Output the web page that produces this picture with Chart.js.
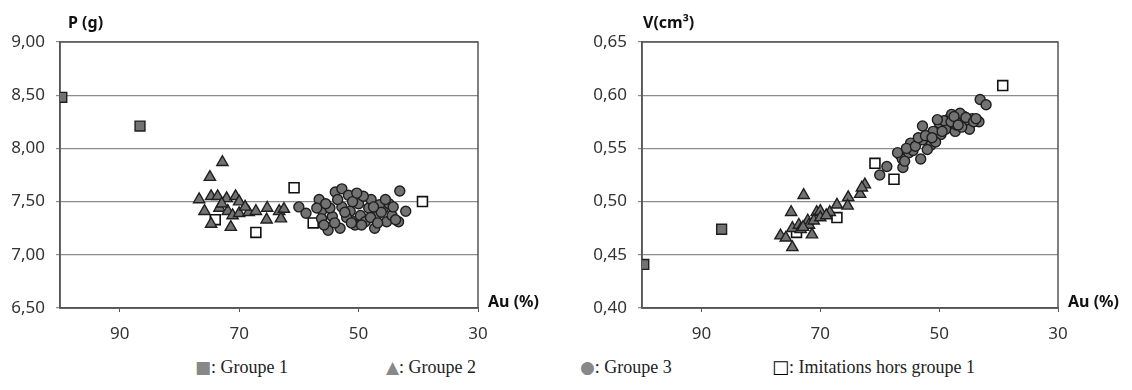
<!DOCTYPE html>
<html>
<head>
<meta charset="utf-8">
<script src="https://cdn.jsdelivr.net/npm/chart.js@4.4.0/dist/chart.umd.min.js"></script>
<style>
  body { margin: 0; background: #fff; width: 1132px; height: 390px; position: relative; overflow: hidden; }
  canvas { position: absolute; top: 0; }
  #pChart { left: 0; }
  #vChart { left: 560px; }
  .leg { position: absolute; top: 357px; font-family: "Liberation Serif", serif; font-size: 18px; color: #222; white-space: nowrap; }
  .sym { font-family: "DejaVu Sans", sans-serif; color: #888; font-size: 17px; line-height: 18px; }
  .open { font-family: "DejaVu Sans", sans-serif; color: #000; font-size: 18px; line-height: 18px; font-weight: bold; }
</style>
</head>
<body>
<canvas id="pChart" width="560" height="345"></canvas>
<canvas id="vChart" width="572" height="345"></canvas>
<div class="leg" style="left:195px"><span class="sym">■</span>: Groupe 1</div>
<div class="leg" style="left:386px"><span class="sym">▲</span>: Groupe 2</div>
<div class="leg" style="left:580px"><span class="sym">●</span>: Groupe 3</div>
<div class="leg" style="left:772px"><span class="open">□</span>: Imitations hors groupe 1</div>
<script>
// tick values
const auTicks = [90, 70, 50, 30];
const pTicks = [6.5, 7.0, 7.5, 8.0, 8.5, 9.0];
const vTicks = [0.40, 0.45, 0.50, 0.55, 0.60, 0.65];

// Groupe 1
const g1Au = [99.7, 86.6];
const g1P = [8.48, 8.21];
const g1V = [0.441, 0.474];

// Groupe 2
const g2Au = [72.8, 74.9, 76.7, 74.7, 73.6, 72.1, 70.6, 70.0, 75.8, 73.3, 71.9, 71.1, 74.7, 71.4, 70.0, 68.4, 67.2, 65.3, 65.4, 63.3, 62.5, 63.0, 72.9, 69.0];
const g2P = [7.87, 7.73, 7.52, 7.55, 7.55, 7.53, 7.55, 7.50, 7.41, 7.44, 7.41, 7.37, 7.29, 7.26, 7.39, 7.40, 7.41, 7.44, 7.33, 7.41, 7.43, 7.34, 7.48, 7.45];
const g2V = [0.506, 0.490, 0.468, 0.475, 0.478, 0.482, 0.490, 0.491, 0.466, 0.474, 0.478, 0.482, 0.457, 0.469, 0.485, 0.490, 0.497, 0.504, 0.496, 0.507, 0.516, 0.513, 0.476, 0.487];

// Groupe 3
const g3Au = [60.0, 58.8, 56.6, 56.1, 56.2, 55.1, 53.9, 52.8, 51.7, 54.4, 53.1, 52.8, 51.4, 50.8, 50.0, 49.7, 48.3, 47.9, 48.9, 47.3, 47.1, 45.8, 45.3, 44.4, 43.3, 43.1, 42.1, 50.6, 46.5, 44.9, 51.0, 49.2, 54.8, 52.0, 46.2,
  55.5, 54.0, 53.5, 52.3, 51.2, 50.3, 49.5, 48.0, 47.5, 46.8, 45.5, 44.2, 43.8, 55.8, 57.0];
const g3P = [7.45, 7.39, 7.52, 7.42, 7.34, 7.23, 7.59, 7.62, 7.56, 7.36, 7.25, 7.45, 7.41, 7.31, 7.48, 7.37, 7.44, 7.52, 7.31, 7.25, 7.36, 7.44, 7.31, 7.37, 7.31, 7.60, 7.41, 7.28, 7.47, 7.48, 7.50, 7.55, 7.44, 7.35, 7.40,
  7.48, 7.30, 7.52, 7.40, 7.30, 7.58, 7.28, 7.35, 7.45, 7.30, 7.52, 7.45, 7.33, 7.28, 7.44];
const g3V = [0.525, 0.533, 0.544, 0.532, 0.540, 0.546, 0.555, 0.571, 0.562, 0.548, 0.540, 0.558, 0.553, 0.558, 0.574, 0.563, 0.578, 0.582, 0.568, 0.566, 0.572, 0.580, 0.574, 0.578, 0.575, 0.596, 0.591, 0.556, 0.583, 0.568, 0.566, 0.576, 0.555, 0.549, 0.570,
  0.550, 0.552, 0.560, 0.562, 0.560, 0.577, 0.566, 0.575, 0.580, 0.572, 0.579, 0.575, 0.578, 0.538, 0.546];

// Imitations hors groupe 1
const imAu = [74.0, 67.2, 60.8, 57.6, 39.3];
const imP = [7.33, 7.21, 7.63, 7.30, 7.50];
const imV = [0.471, 0.485, 0.536, 0.521, 0.609];

const pts = (xs, ys) => xs.map((x, i) => ({x: x, y: ys[i]}));
const fmt = v => v.toFixed(2).replace('.', ',');

// box round the plot + axis titles
const frame = {
  id: 'frame',
  beforeDatasetsDraw(chart) {
    const {ctx, chartArea: a} = chart;
    ctx.save();
    ctx.strokeStyle = '#555';
    ctx.lineWidth = 1.5;
    ctx.strokeRect(a.left, a.top, a.right - a.left, a.bottom - a.top);
    ctx.restore();
  },
  afterDraw(chart, args, opts) {
    const {ctx, chartArea: a} = chart;
    ctx.save();
    ctx.fillStyle = '#111';
    ctx.font = 'bold 16px "Noto Sans"';
    ctx.textBaseline = 'middle';
    ctx.fillText(opts.yTitle, a.left + opts.dx, a.top - 19);
    ctx.fillText('Au (%)', a.right + 10, a.bottom - 6);
    ctx.restore();
  }
};

function makeChart(id, yVals, yTicks, yTitle, dx, padLeft, padRight) {
  const mark = {backgroundColor: '#727272', borderColor: '#1e1e1e', borderWidth: 1.4};
  return new Chart(document.getElementById(id), {
    type: 'scatter',
    data: {
      datasets: [
        Object.assign({data: pts(g1Au, yVals[0]), pointStyle: 'rect', pointRadius: 7, order: 1}, mark),
        Object.assign({data: pts(g3Au, yVals[2]), pointStyle: 'circle', pointRadius: 5, order: 2}, mark),
        Object.assign({data: pts(g2Au, yVals[1]), pointStyle: 'triangle', pointRadius: 6.5, order: 3}, mark),
        {data: pts(imAu, yVals[3]), pointStyle: 'rect', pointRadius: 7, backgroundColor: '#fff', borderColor: '#111', borderWidth: 1.6, order: 4}
      ]
    },
    options: {
      responsive: false,
      animation: false,
      layout: {padding: {left: padLeft, right: padRight, top: 42, bottom: 0}},
      plugins: {legend: {display: false}, tooltip: {enabled: false}, frame: {yTitle: yTitle, dx: dx}},
      scales: {
        x: {
          type: 'linear', reverse: true, min: 30, max: 100,
          afterBuildTicks: s => { s.ticks = auTicks.map(v => ({value: v})); },
          afterFit: s => { s.height = 37; },
          grid: {drawOnChartArea: false, drawTicks: true, tickLength: 4, color: '#555'},
          border: {color: '#555', width: 1.5},
          ticks: {padding: 12, color: '#333', font: {family: 'Noto Sans', size: 17}}
        },
        y: {
          min: yTicks[0], max: yTicks[yTicks.length - 1],
          afterBuildTicks: s => { s.ticks = yTicks.map(v => ({value: v})); },
          afterFit: s => { s.width = 60; },
          grid: {color: '#8c8c8c', lineWidth: 1.2, tickLength: 4},
          border: {color: '#555', width: 1.5},
          ticks: {padding: 11, color: '#333', font: {family: 'Noto Sans', size: 17}, callback: v => fmt(v)}
        }
      }
    },
    plugins: [frame]
  });
}

makeChart('pChart', [g1P, g2P, g3P, imP], pTicks, 'P (g)', 8, 0, 82);
makeChart('vChart', [g1V, g2V, g3V, imV], vTicks, 'V(cm³)', 1, 22, 74);
</script>
</body>
</html>
